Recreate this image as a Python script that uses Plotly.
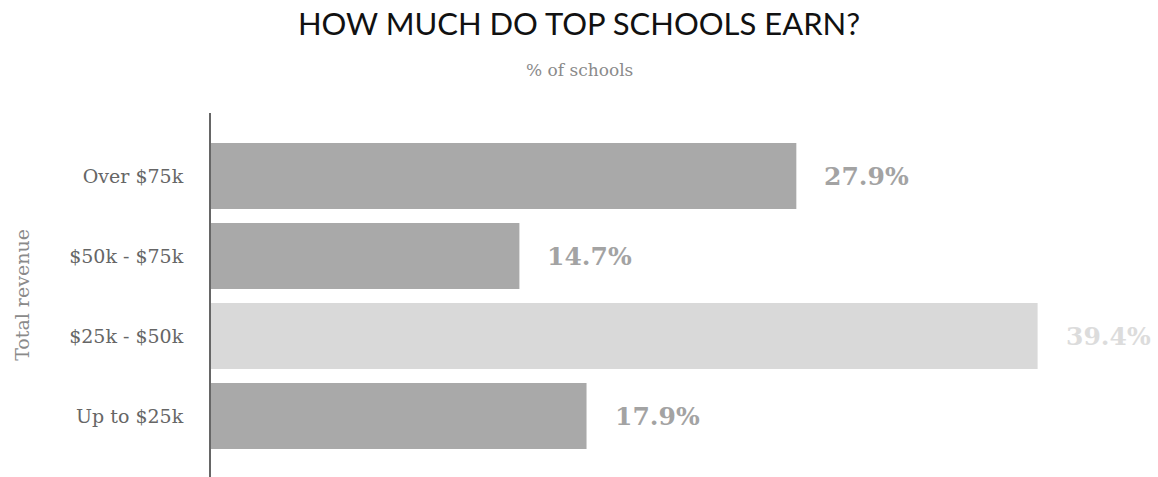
import plotly.graph_objects as go

categories = ["Up to $25k", "$25k - $50k", "$50k - $75k", "Over $75k"]
values = [17.9, 39.4, 14.7, 27.9]
bar_colors = ["#a9a9a9", "#d9d9d9", "#a9a9a9", "#a9a9a9"]
label_colors = ["#a3a3a3", "#dcdcdc", "#a3a3a3", "#a3a3a3"]
labels = [f"{v:.1f}%" for v in values]

fig = go.Figure()
fig.add_trace(go.Bar(
    x=values, y=categories, orientation="h",
    marker=dict(color=bar_colors, line=dict(width=0)),
    hoverinfo="skip",
))

for c, v, t, col in zip(categories, values, labels, label_colors):
    fig.add_annotation(
        x=v, y=c, xref="x", yref="y", text=f"<b>{t}</b>", showarrow=False,
        xanchor="left", yanchor="middle", xshift=26,
        font=dict(family="DejaVu Serif", size=25, color=col),
    )

fig.add_annotation(
    x=0.5, y=1 + (113 - 70) / 364, xref="paper", yref="paper",
    xanchor="center", yanchor="middle", text="% of schools",
    showarrow=False, font=dict(family="DejaVu Serif", size=17, color="#8a8a8a"),
)
# center subtitle on the page rather than the plot area
fig.layout.annotations[-1].x = (579 - 211) / 947

fig.update_layout(
    width=1158, height=477,
    margin=dict(l=211, r=0, t=113, b=0),
    paper_bgcolor="white", plot_bgcolor="white",
    bargap=0.175,
    showlegend=False,
    title=dict(
        text="HOW MUCH DO TOP SCHOOLS EARN?",
        x=0.5, xref="container", xanchor="center",
        y=1 - 24 / 477, yref="container", yanchor="middle",
        font=dict(family="Lato", size=31, color="#111111"),
    ),
    xaxis=dict(range=[0, 947 / 20.98], visible=False, fixedrange=True),
    yaxis=dict(
        range=[-0.7625, 3.7875],
        showline=True, linecolor="#666666", linewidth=2,
        showgrid=False, zeroline=False, ticks="",
        ticklabelstandoff=22,
        tickfont=dict(family="DejaVu Serif", size=19, color="#666666"),
        title=dict(text="Total revenue", standoff=34,
                   font=dict(family="DejaVu Serif", size=19, color="#8a8a8a")),
    ),
)

fig.write_html("out.html")
